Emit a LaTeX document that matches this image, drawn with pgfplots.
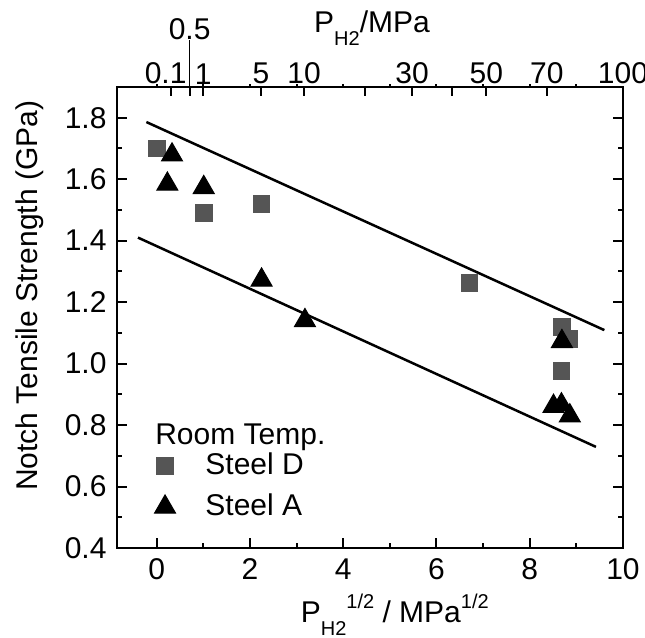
\documentclass[border=0pt]{standalone}
\usepackage{fontspec}
\setmainfont{Liberation Sans}
\usepackage{pgfplots}
\pgfplotsset{compat=1.18}
\definecolor{sqgray}{RGB}{85,85,85}
\newcommand{\sub}[1]{\raisebox{-5pt}{\fontsize{8}{9}\selectfont #1}}
\newcommand{\sups}[1]{\raisebox{5.5pt}{\fontsize{8}{9}\selectfont #1}}
\begin{document}
\begin{tikzpicture}
\fontsize{12}{14}\selectfont
\begin{axis}[
 name=main,
 scale only axis, width=202.4pt, height=184.4pt,
 xmin=-0.85, xmax=10, ymin=0.4, ymax=1.9,
 axis line style={line width=0.9pt},
 every tick/.style={line width=0.8pt, black},
 tick align=inside,
 xtick pos=bottom, ytick pos=both,
 xtick={0,2,4,6,8,10}, minor xtick={1,3,5,7,9},
 ytick={0.4,0.6,0.8,1.0,1.2,1.4,1.6,1.8},
 minor ytick={0.5,0.7,0.9,1.1,1.3,1.5,1.7,1.9},
 yticklabel style={/pgf/number format/.cd, fixed, fixed zerofill, precision=1},
 major tick length=4pt, minor tick length=2pt,
 /pgf/number format/assume math mode=true,
 ticklabel style={font=\fontsize{12}{14}\selectfont},
 label style={font=\fontsize{12}{14}\selectfont},
 xlabel={P\sub{H2}\sups{1/2} / MPa\sups{1/2}},
 xlabel style={at={(axis description cs:0.549,-0.145)}, anchor=center},
 ylabel={Notch Tensile Strength (GPa)},
 ylabel style={at={(axis description cs:-0.172,0.547)}, anchor=center},
 legend style={at={(axis description cs:0.036,0.2295)}, anchor=north west, draw=none, fill=none,
   font=\fontsize{12}{14}\selectfont, row sep=2pt},
 legend cell align=left,
 legend image code/.code={\draw[#1] plot coordinates {(0.3cm,0cm)}; \path (0cm,0cm) (0.79cm,0cm);},
]
\addplot[no marks, line width=1pt, black, forget plot] coordinates {(-0.22,1.786) (9.6,1.109)};
\addplot[no marks, line width=1pt, black, forget plot] coordinates {(-0.40,1.410) (9.42,0.729)};
\addplot[only marks, mark=square*, mark size=3.35pt, color=sqgray, mark options={draw=none, fill=sqgray}]
 coordinates {(0,1.70) (1.02,1.49) (2.25,1.52) (6.71,1.262) (8.69,1.118) (8.85,1.08) (8.68,0.976)};
\addlegendentry{Steel D}
\addplot[only marks, mark=triangle*, mark size=4.85pt, color=black, mark options={draw=none, fill=black}]
 coordinates {(0.33,1.679) (0.23,1.584) (1.01,1.573) (2.25,1.272) (3.18,1.140) (8.69,1.072) (8.51,0.861) (8.68,0.866) (8.86,0.830)};
\addlegendentry{Steel A}
\node[anchor=west, font=\fontsize{12}{14}\selectfont] at (axis description cs:0.055,0.241) {Room Temp.};
\end{axis}
\begin{axis}[
 scale only axis, width=202.4pt, height=184.4pt,
 xmin=-0.85, xmax=10, ymin=0.4, ymax=1.9,
 axis x line*=top, axis y line=none,
 clip=false,
 axis line style={line width=0.9pt},
 every tick/.style={line width=0.8pt, black},
 tick align=inside, major tick length=3.5pt,
 xtick={0.3162,0.7071,1,2.2361,3.1623,4.4721,5.4772,6.3246,7.0711,8.3666,10},
 xticklabels={{\makebox[0pt]{\hspace{-4.6pt}0.1}},,1,5,10,,30,,50,70,100},
 minor xtick={},
 extra x ticks={0,1,2,3,4,5,6,7,8,9},
 extra x tick labels={},
 extra x tick style={tick align=outside, major tick length=1pt},
 /pgf/number format/assume math mode=true,
 ticklabel style={font=\fontsize{12}{14}\selectfont},
 xticklabel style={yshift=-3pt},
]
\draw[line width=0.5pt] (axis cs:0.7071,1.9) -- ([yshift=18.8pt]axis cs:0.7071,1.9);
\node[font=\fontsize{12}{14}\selectfont] at ([yshift=23pt]axis cs:0.7071,1.9) {0.5};
\node[font=\fontsize{12}{14}\selectfont] at (axis description cs:0.504,1.128) {P\sub{H2}/MPa};
\end{axis}
\pgfresetboundingbox
\path[use as bounding box] ([shift={(-46.8pt,-36pt)}]main.south west) rectangle ([shift={(8.8pt,34.8pt)}]main.north east);
\end{tikzpicture}
\end{document}
